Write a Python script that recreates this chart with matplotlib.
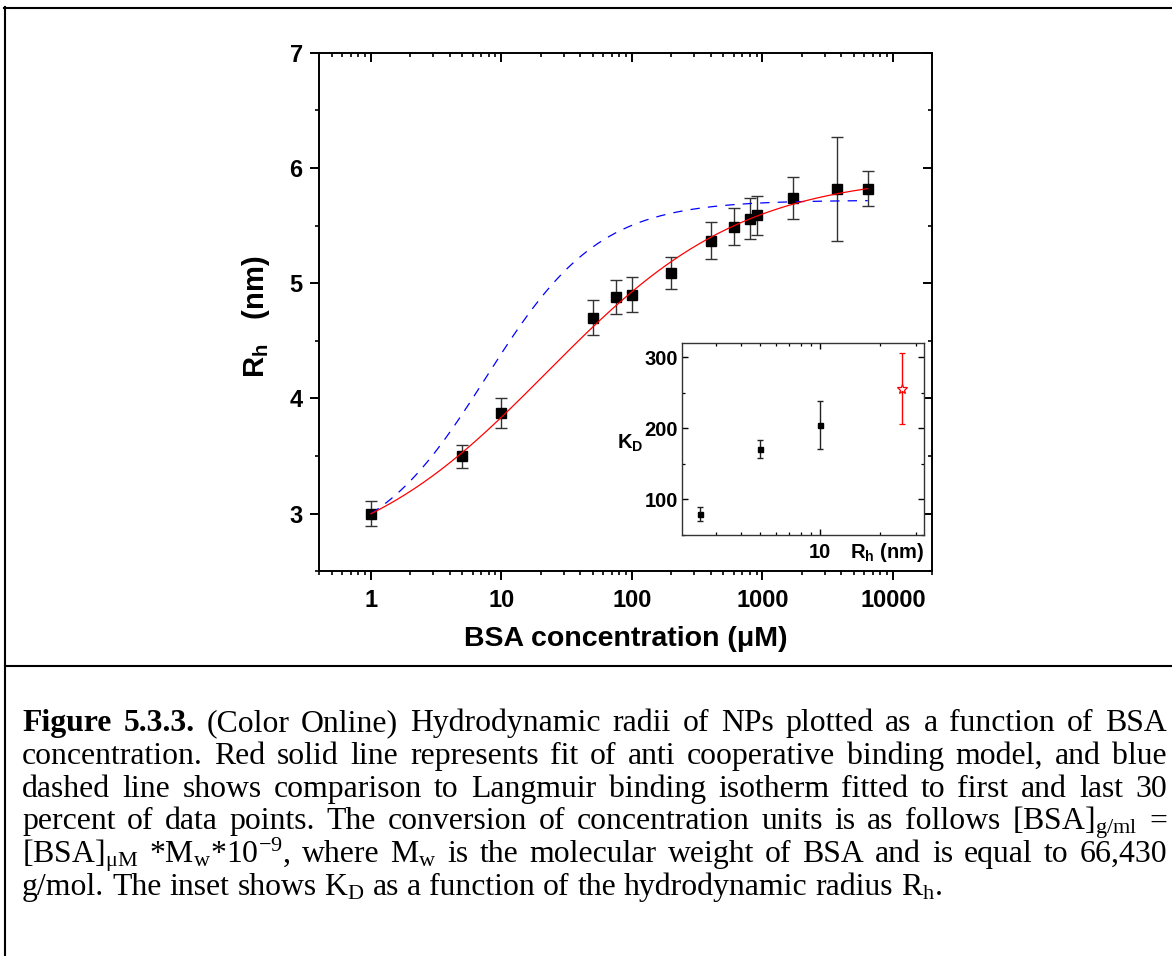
import numpy as np
import matplotlib
matplotlib.use('Agg')
import matplotlib.pyplot as plt
from matplotlib.ticker import FixedLocator, LogLocator, MultipleLocator, NullFormatter
from matplotlib.lines import Line2D

plt.rcParams['font.family'] = 'Liberation Sans'
plt.rcParams['mathtext.fontset'] = 'custom'
plt.rcParams['mathtext.rm'] = 'Liberation Serif'
plt.rcParams['mathtext.it'] = 'Liberation Serif:italic'
plt.rcParams['mathtext.bf'] = 'Liberation Sans:bold'

# hydrodynamic radius of the NPs vs BSA concentration (uM)
conc = [1, 5, 10, 50, 75, 100, 200, 400, 600, 800, 900, 1700, 3700, 6400]
rh = [3.00, 3.50, 3.87, 4.70, 4.88, 4.90, 5.09, 5.37, 5.49, 5.56, 5.59, 5.74, 5.82, 5.82]
rh_err = [0.11, 0.10, 0.13, 0.15, 0.15, 0.15, 0.14, 0.16, 0.16, 0.18, 0.17, 0.18, 0.45, 0.15]

# anti cooperative (Hill type) fit and Langmuir isotherm parameters
hill_base, hill_amp, hill_k, hill_n = 2.5, 3.45, 22.2, 0.573
lang_base, lang_amp, lang_k = 2.643, 3.077, 7.61

# inset: K_D vs hydrodynamic radius (nm)
inset_rh = [2.5, 5.0, 10.0, 25.6]
inset_kd = [79, 171, 205, 256]
inset_kd_err = [10, 13, 34, 50]

xticks = [1, 10, 100, 1000, 10000]
xtick_labels = ['1', '10', '100', '1000', '10000']
yticks = [3, 4, 5, 6, 7]
inset_yticks = [100, 200, 300]

W, H = 1172, 956
fig = plt.figure(figsize=(W / 100, H / 100), dpi=100)


def rect(l, t, r, b):
    return [l / W, 1 - b / H, (r - l) / W, (b - t) / H]


ax = fig.add_axes(rect(319, 52.7, 932.3, 571.3))
c = np.logspace(0, np.log10(conc[-1]), 400)
hill = hill_base + hill_amp * c**hill_n / (hill_k**hill_n + c**hill_n)
lang = lang_base + lang_amp * c / (lang_k + c)
ax.errorbar(conc, rh, yerr=rh_err, fmt='none', ecolor='#333333',
            elinewidth=1.0, capsize=4, capthick=1.0, zorder=2)
ax.plot(conc, rh, 's', ms=7, color='black', zorder=3)
ax.plot(c, lang, color='#0000ff', lw=0.9, dashes=(7.5, 6.5), zorder=4)
ax.plot(c, hill, color='#ff0000', lw=0.9, zorder=4)

ax.set_xscale('log')
ax.set_xlim(0.4, 20000)
ax.set_ylim(2.5, 7)


def style_ticks(a):
    a.xaxis.set_major_locator(FixedLocator(xticks))
    a.xaxis.set_minor_locator(LogLocator(subs=np.arange(2, 10), numticks=30))
    a.xaxis.set_minor_formatter(NullFormatter())
    a.yaxis.set_major_locator(FixedLocator(yticks))
    a.yaxis.set_minor_locator(MultipleLocator(0.5))
    a.tick_params(which='major', length=6.7, width=1.4)
    a.tick_params(which='minor', length=3.2, width=1.2)


style_ticks(ax)
ax.set_xticklabels(xtick_labels)
ax.tick_params(which='both', direction='out', top=False, right=False)
ax.tick_params(axis='both', labelsize=17)
ax.tick_params(axis='x', pad=6)
ax.tick_params(axis='y', pad=5)
for lbl in ax.get_xticklabels() + ax.get_yticklabels():
    lbl.set_fontweight('bold')
for s in ax.spines.values():
    s.set_linewidth(1.4)

ax.set_xlabel('BSA concentration (μM)', fontsize=20.5, fontweight='bold')
ax.xaxis.set_label_coords(0.5, -0.106)
ax.set_ylabel(r'$\mathbf{R_h}$   (nm)', fontsize=21, fontweight='bold')
ax.yaxis.set_label_coords(-0.076, 0.49)

# top and right ticks point inwards
ax2 = fig.add_axes(ax.get_position(), frameon=False)
ax2.set_xscale('log')
ax2.set_xlim(ax.get_xlim())
ax2.set_ylim(ax.get_ylim())
style_ticks(ax2)
ax2.xaxis.tick_top()
ax2.yaxis.tick_right()
ax2.tick_params(which='both', direction='in', labeltop=False, labelright=False)
ax2.patch.set_visible(False)

# inset
axi = fig.add_axes(rect(682, 343, 924, 535))
axi.errorbar(inset_rh[:3], inset_kd[:3], yerr=inset_kd_err[:3], fmt='s', ms=3.6,
             color='black', ecolor='#222222', elinewidth=1.0, capsize=2.3, capthick=1.0)
axi.errorbar(inset_rh[3:], inset_kd[3:], yerr=inset_kd_err[3:], fmt='*', ms=7,
             mfc='white', mec='#ff0000', mew=0.9, ecolor='#ff0000',
             elinewidth=1.0, capsize=2.3, capthick=1.0)
axi.set_xscale('log')
axi.set_xlim(2.04, 33)
axi.set_ylim(50, 320)
axi.xaxis.set_major_locator(FixedLocator([10]))
axi.set_xticklabels(['10'])
axi.xaxis.set_minor_locator(LogLocator(subs=np.arange(2, 10), numticks=20))
axi.xaxis.set_minor_formatter(NullFormatter())
axi.yaxis.set_major_locator(FixedLocator(inset_yticks))
axi.yaxis.set_minor_locator(MultipleLocator(50))
axi.tick_params(which='both', direction='in', top=True, right=True, labelsize=14.5)
axi.tick_params(which='major', length=4.5, width=1.0)
axi.tick_params(which='minor', length=2.5, width=0.9)
axi.tick_params(axis='x', pad=6)
axi.tick_params(axis='y', pad=3)
for lbl in axi.get_xticklabels() + axi.get_yticklabels():
    lbl.set_fontweight('bold')
for s in axi.spines.values():
    s.set_linewidth(1.0)
    s.set_color('#333333')
axi.text(-0.269, 0.453, r'K$_\mathbf{D}$', transform=axi.transAxes, fontsize=14.5,
         fontweight='bold', ha='left', va='baseline')
axi.text(1.0, -0.12, r'$\mathbf{R_h}$ (nm)', transform=axi.transAxes, fontsize=14.5,
         fontweight='bold', ha='right', va='baseline')

# page frame and separator
frame = dict(transform=fig.transFigure, color='black', lw=1.5)
fig.add_artist(Line2D([4 / W, 1], [1 - 7.7 / H] * 2, **frame))
fig.add_artist(Line2D([5 / W] * 2, [1 - 7 / H, 0], **frame))
fig.add_artist(Line2D([5 / W, 1], [1 - 665.7 / H] * 2, **frame))

# caption, justified like the printed page
caption = [
    [('Figure', 'bold'), ('5.3.3.', 'bold')] + [(w, 'normal') for w in
        '(Color Online) Hydrodynamic radii of NPs plotted as a function of BSA'.split()],
    [(w, 'normal') for w in
        'concentration. Red solid line represents fit of anti cooperative binding model, and blue'.split()],
    [(w, 'normal') for w in
        'dashed line shows comparison to Langmuir binding isotherm fitted to first and last 30'.split()],
    [(w, 'normal') for w in
        'percent of data points. The conversion of concentration units is as follows'.split()]
    + [(r'[BSA]$_{\mathrm{g/ml}}$', 'normal'), ('=', 'normal')],
    [(r'[BSA]$_{\mathrm{μM}}$', 'normal'), (r'*M$_{\mathrm{w}}$*10$^{\mathrm{-9}}$,', 'normal')]
    + [(w, 'normal') for w in 'where'.split()] + [(r'M$_{\mathrm{w}}$', 'normal')]
    + [(w, 'normal') for w in
        'is the molecular weight of BSA and is equal to 66,430'.split()],
    [(w, 'normal') for w in 'g/mol. The inset shows'.split()] + [(r'K$_{\mathrm{D}}$', 'normal')]
    + [(w, 'normal') for w in 'as a function of the hydrodynamic radius'.split()]
    + [(r'R$_{\mathrm{h}}$.', 'normal')],
]
cap_size = 22.9
left_px, right_px = 22, 1167
first_base, line_step = 731, 32.8
renderer = fig.canvas.get_renderer()
for i, words in enumerate(caption):
    y = 1 - (first_base + i * line_step) / H
    texts = [fig.text(0, y, w, fontsize=cap_size, fontfamily='Liberation Serif',
                      fontweight=wt, va='baseline') for w, wt in words]
    widths = [t.get_window_extent(renderer).width for t in texts]
    if i < len(caption) - 1:
        gap = (right_px - left_px - sum(widths)) / (len(texts) - 1)
    else:
        gap = 0.25 * cap_size * 100 / 72
    x = left_px
    for t, w in zip(texts, widths):
        t.set_x(x / W)
        x += w + gap

fig.savefig('out.png', dpi=100)
